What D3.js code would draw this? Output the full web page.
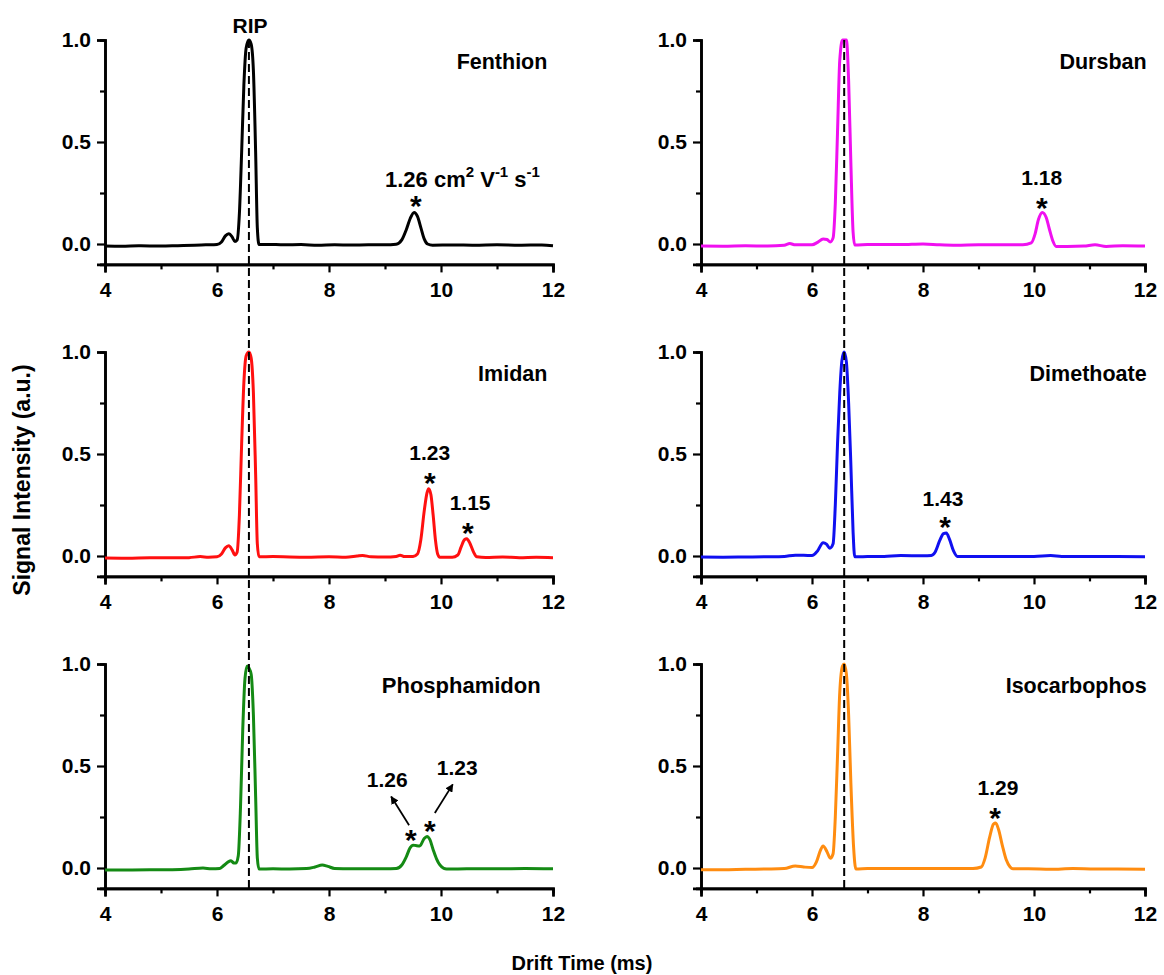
<!DOCTYPE html>
<html><head><meta charset="utf-8">
<script src="https://cdn.jsdelivr.net/npm/d3@7"></script>
<style>
body{margin:0;background:#fff}
text{font-family:"Liberation Sans",Arial,sans-serif;font-weight:bold;fill:#000}
</style>
</head><body>
<svg id="chart" width="1164" height="975"></svg>
<script>
// ---------- data ----------
const xDomain = [4, 12];
const yDomain = [-0.1, 1.0];
const xTicks = [4, 6, 8, 10, 12];
const xMinorTicks = [5, 7, 9, 11];
const yTicks = [0.0, 0.5, 1.0];
const yMinorTicks = [0.25, 0.75];
const compounds = ["Fenthion", "Dursban", "Imidan", "Dimethoate", "Phosphamidon", "Isocarbophos"];
const seriesColors = ["#000000", "#f010f0", "#ff1010", "#1010f0", "#148a14", "#ff8c10"];
const ripDrift = [6.57, 6.58]; // left column, right column

const fenthion = [[4.0,-0.010],[4.3,-0.011],[4.6,-0.009],[5.0,-0.010],[5.3,-0.008],[5.6,-0.006],[5.8,-0.004],[6.0,-0.002],[6.08,0.010],[6.15,0.040],[6.21,0.050],[6.27,0.035],[6.32,0.012],[6.36,0.020],[6.40,0.150],[6.44,0.450],[6.48,0.780],[6.52,0.960],[6.57,1.000],[6.61,0.980],[6.65,0.850],[6.69,0.450],[6.72,0.080],[6.75,-0.002],[6.9,-0.002],[7.2,-0.004],[7.5,-0.003],[7.8,-0.006],[8.1,-0.004],[8.4,-0.005],[8.7,-0.004],[9.0,-0.004],[9.2,-0.001],[9.3,0.020],[9.38,0.070],[9.45,0.125],[9.52,0.155],[9.58,0.135],[9.64,0.080],[9.70,0.025],[9.76,0.000],[9.85,-0.006],[10.2,-0.005],[10.6,-0.006],[11.0,-0.004],[11.4,-0.006],[11.8,-0.005],[12.0,-0.008]];
const dursban = [[4.0,-0.010],[4.4,-0.011],[4.8,-0.009],[5.2,-0.010],[5.5,-0.006],[5.6,0.002],[5.7,-0.004],[6.0,-0.004],[6.1,0.008],[6.2,0.025],[6.27,0.022],[6.33,0.010],[6.38,0.030],[6.42,0.200],[6.46,0.550],[6.50,0.900],[6.55,1.000],[6.62,1.000],[6.66,0.800],[6.70,0.400],[6.74,0.060],[6.77,-0.005],[7.0,-0.003],[7.3,-0.002],[7.6,-0.003],[8.0,0.000],[8.3,-0.004],[8.6,-0.006],[9.0,-0.004],[9.4,-0.004],[9.8,-0.004],[9.95,0.005],[10.02,0.050],[10.08,0.120],[10.15,0.155],[10.22,0.130],[10.28,0.070],[10.34,0.015],[10.40,-0.012],[10.6,-0.012],[10.9,-0.010],[11.1,-0.004],[11.3,-0.012],[11.6,-0.008],[12.0,-0.010]];
const imidan = [[4.0,-0.010],[4.4,-0.011],[4.8,-0.009],[5.2,-0.009],[5.5,-0.008],[5.7,-0.003],[5.85,-0.006],[6.0,-0.004],[6.08,0.010],[6.15,0.040],[6.21,0.050],[6.27,0.030],[6.32,0.005],[6.36,0.020],[6.40,0.200],[6.44,0.550],[6.48,0.850],[6.52,0.980],[6.57,1.000],[6.61,0.970],[6.65,0.800],[6.69,0.400],[6.72,0.060],[6.75,-0.004],[7.0,-0.003],[7.3,-0.005],[7.6,-0.006],[8.0,-0.004],[8.3,-0.006],[8.5,0.000],[8.6,0.003],[8.75,-0.004],[9.0,-0.005],[9.2,-0.002],[9.27,0.004],[9.35,-0.003],[9.5,-0.002],[9.58,0.010],[9.64,0.080],[9.70,0.220],[9.75,0.310],[9.78,0.330],[9.82,0.300],[9.86,0.200],[9.90,0.080],[9.94,0.010],[9.98,-0.006],[10.2,-0.006],[10.30,0.005],[10.36,0.045],[10.42,0.080],[10.46,0.085],[10.52,0.060],[10.58,0.020],[10.64,-0.004],[10.8,-0.007],[11.1,-0.005],[11.4,-0.008],[11.7,-0.006],[12.0,-0.008]];
const dimethoate = [[4.0,-0.005],[4.4,-0.006],[4.8,-0.005],[5.2,-0.004],[5.5,-0.002],[5.7,0.004],[5.85,0.004],[6.0,0.002],[6.1,0.025],[6.2,0.065],[6.26,0.058],[6.32,0.038],[6.38,0.060],[6.42,0.250],[6.46,0.550],[6.50,0.800],[6.54,0.960],[6.58,1.000],[6.62,0.950],[6.66,0.750],[6.70,0.450],[6.74,0.120],[6.77,-0.004],[7.0,-0.003],[7.3,-0.002],[7.6,0.002],[8.0,0.001],[8.15,0.003],[8.22,0.020],[8.30,0.075],[8.37,0.110],[8.42,0.113],[8.48,0.080],[8.55,0.025],[8.62,-0.002],[8.8,-0.002],[9.2,-0.003],[9.6,-0.002],[10.0,-0.002],[10.3,0.002],[10.5,-0.002],[11.0,-0.003],[11.5,-0.003],[12.0,-0.004]];
const phosphamidon = [[4.0,-0.010],[4.4,-0.010],[4.8,-0.009],[5.2,-0.008],[5.5,-0.005],[5.75,0.000],[5.9,-0.004],[6.05,-0.002],[6.12,0.012],[6.2,0.030],[6.25,0.035],[6.3,0.025],[6.34,0.025],[6.38,0.060],[6.42,0.300],[6.46,0.680],[6.50,0.930],[6.54,0.990],[6.57,0.980],[6.61,0.950],[6.65,0.750],[6.69,0.350],[6.72,0.050],[6.75,-0.005],[7.0,-0.004],[7.3,-0.005],[7.6,-0.003],[7.75,0.005],[7.88,0.015],[7.98,0.008],[8.1,-0.002],[8.4,-0.004],[8.7,-0.004],[9.0,-0.004],[9.2,-0.002],[9.3,0.015],[9.38,0.055],[9.45,0.100],[9.50,0.112],[9.55,0.110],[9.62,0.108],[9.70,0.145],[9.75,0.155],[9.80,0.140],[9.86,0.090],[9.92,0.045],[9.98,0.015],[10.05,-0.002],[10.1,-0.005],[10.5,-0.004],[11.0,-0.004],[11.5,-0.003],[12.0,-0.004]];
const isocarbophos = [[4.0,-0.008],[4.4,-0.008],[4.8,-0.006],[5.2,-0.005],[5.5,-0.003],[5.7,0.010],[5.85,0.005],[6.0,0.002],[6.08,0.030],[6.15,0.085],[6.20,0.108],[6.27,0.080],[6.33,0.048],[6.38,0.070],[6.42,0.250],[6.46,0.550],[6.50,0.860],[6.55,0.990],[6.58,1.000],[6.62,0.950],[6.66,0.750],[6.70,0.420],[6.75,0.100],[6.79,-0.005],[7.0,-0.003],[7.4,-0.002],[7.8,-0.002],[8.2,-0.003],[8.6,-0.002],[8.9,-0.002],[9.05,0.005],[9.12,0.050],[9.20,0.150],[9.27,0.215],[9.31,0.220],[9.36,0.190],[9.43,0.110],[9.50,0.040],[9.57,0.005],[9.62,-0.004],[9.9,-0.004],[10.3,-0.006],[10.7,-0.003],[11.1,-0.005],[11.5,-0.005],[12.0,-0.006]];
const spectra = [fenthion, dursban, imidan, dimethoate, phosphamidon, isocarbophos];

// mobility labels: [panel, x, baseline y, text]
const mobilityLabels = [[1,10.14,0.29,"1.18"],[2,9.80,0.47,"1.23"],[2,10.52,0.225,"1.15"],[3,8.36,0.245,"1.43"],[4,9.04,0.397,"1.26"],[4,10.29,0.456,"1.23"],[5,9.35,0.358,"1.29"]];
// peak stars: [panel, x, center y]
const peakStars = [[0,9.55,0.215],[1,10.14,0.205],[2,9.80,0.387],[2,10.48,0.142],[3,8.40,0.17],[4,9.46,0.167],[4,9.80,0.21],[5,9.30,0.275]];
// arrows: [panel, x1, y1, x2, y2]
const arrows = [[4,9.43,0.21,9.11,0.35],[4,9.89,0.27,10.21,0.41]];
const titleEndX = [11.9, 12.03, 11.9, 12.03, 11.78, 12.03];
const titleY = 0.86;

// ---------- layout ----------
const svg = d3.select("#chart");
const colX = [[105, 553], [701, 1145]];
const rowTop = [40, 352, 664];
const unitH = 204;
const FONT = "Liberation Sans, Arial, sans-serif";

const defs = svg.append("defs");
defs.append("marker").attr("id","arr").attr("viewBox","0 0 10 10").attr("refX",9).attr("refY",5)
  .attr("markerWidth",4.5).attr("markerHeight",4.5).attr("orient","auto")
  .append("path").attr("d","M0,0L10,5L0,10z").attr("fill","#000");

const panels = compounds.map((name, i) => {
  const col = i % 2, row = Math.floor(i / 2);
  const x = d3.scaleLinear().domain(xDomain).range(colX[col]);
  const top = rowTop[row];
  const y = d3.scaleLinear().domain(yDomain).range([top + (yDomain[1]-yDomain[0])*unitH, top]);
  return {name, col, row, x, y, i};
});

panels.forEach(p => {
  const g = svg.append("g");
  const yAxis = d3.axisLeft(p.y).tickValues(yTicks).tickFormat(d3.format(".1f")).tickSize(8).tickPadding(6);
  const yMinor = d3.axisLeft(p.y).tickValues(yMinorTicks).tickFormat("").tickSize(5);
  const xAxis = d3.axisBottom(p.x).tickValues(xTicks).tickFormat(d3.format("d")).tickSize(8).tickPadding(10);
  const xMinor = d3.axisBottom(p.x).tickValues(xMinorTicks).tickFormat("").tickSize(5);
  const x0 = p.x(xDomain[0]), yb = p.y(yDomain[0]);
  [[yAxis, `translate(${x0},0)`], [yMinor, `translate(${x0},0)`], [xAxis, `translate(0,${yb})`], [xMinor, `translate(0,${yb})`]].forEach(([ax, tr]) => {
    const a = g.append("g").attr("transform", tr).call(ax);
    a.select(".domain").attr("stroke","#000").attr("stroke-width",2.6);
    a.selectAll(".tick line").attr("stroke","#000").attr("stroke-width",2.2);
    a.selectAll(".tick text").attr("font-size",21).attr("font-family",FONT).attr("font-weight","bold").attr("fill","#000");
  });
  g.append("path").datum(spectra[p.i])
    .attr("fill","none").attr("stroke",seriesColors[p.i]).attr("stroke-width",3)
    .attr("stroke-linejoin","round")
    .attr("d", d3.line().x(d => p.x(d[0])).y(d => p.y(d[1])).curve(d3.curveMonotoneX));
  g.append("text").attr("x", p.x(titleEndX[p.i])).attr("y", p.y(titleY))
    .attr("text-anchor","end").attr("font-size", p.i === 4 ? 22 : 21.5).text(p.name);
});

// dashed RIP reference lines spanning all rows
[0, 1].forEach(col => {
  const top = panels[col], bottom = panels[4 + col];
  svg.append("line")
    .attr("x1", top.x(ripDrift[col])).attr("x2", top.x(ripDrift[col]))
    .attr("y1", top.y(1.0)).attr("y2", bottom.y(yDomain[0]))
    .attr("stroke","#000").attr("stroke-width",2).attr("stroke-dasharray","8,4");
});

// RIP label
svg.append("text").attr("x", panels[0].x(6.59)).attr("y", panels[0].y(1.034))
  .attr("text-anchor","middle").attr("font-size",21).text("RIP");

// Fenthion mobility label with superscripts
const ft = svg.append("text").attr("x", panels[0].x(9.0)).attr("y", panels[0].y(0.28)).attr("font-size",22)
  .attr("xml:space","preserve").style("white-space","pre");
ft.append("tspan").text("1.26 cm");
ft.append("tspan").attr("font-size",15).attr("dy",-10).text("2");
ft.append("tspan").attr("dy",10).text(" V");
ft.append("tspan").attr("font-size",15).attr("dy",-10).text("-1");
ft.append("tspan").attr("dy",10).text(" s");
ft.append("tspan").attr("font-size",15).attr("dy",-10).text("-1");

mobilityLabels.forEach(([pi, x, y, t]) => {
  const p = panels[pi];
  svg.append("text").attr("x", p.x(x)).attr("y", p.y(y)).attr("text-anchor","middle").attr("font-size",21).text(t);
});
peakStars.forEach(([pi, x, y]) => {
  const p = panels[pi];
  svg.append("text").attr("x", p.x(x)).attr("y", p.y(y) + 16).attr("text-anchor","middle").attr("font-size",30).text("*");
});
arrows.forEach(([pi, x1, y1, x2, y2]) => {
  const p = panels[pi];
  svg.append("line").attr("x1", p.x(x1)).attr("y1", p.y(y1)).attr("x2", p.x(x2)).attr("y2", p.y(y2))
    .attr("stroke","#000").attr("stroke-width",1.8).attr("marker-end","url(#arr)");
});

// axis titles
svg.append("text").attr("transform","translate(30,480) rotate(-90)").attr("text-anchor","middle")
  .attr("font-size",23).text("Signal Intensity (a.u.)");
svg.append("text").attr("x",582).attr("y",970).attr("text-anchor","middle")
  .attr("font-size",20).text("Drift Time (ms)");
</script>
</body></html>
